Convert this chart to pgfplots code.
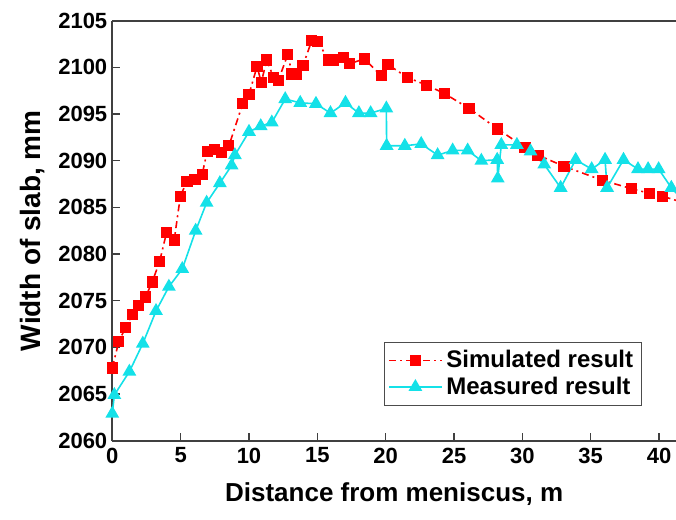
\documentclass[border=0pt]{standalone}
\usepackage{pgfplots}
\pgfplotsset{compat=1.18}
\usepackage{fontspec}
\setmainfont{Liberation Sans}
\definecolor{simred}{RGB}{255,0,0}
\definecolor{meascyan}{RGB}{20,225,232}
\pgfplotstableread{
x y
0.0 2067.8
0.47 2070.6
0.96 2072.1
1.45 2073.5
1.94 2074.5
2.43 2075.4
2.92 2077.0
3.46 2079.2
3.97 2082.3
4.53 2081.5
4.98 2086.2
5.46 2087.8
6.05 2088.0
6.57 2088.5
6.94 2091.0
7.48 2091.2
7.99 2090.9
8.53 2091.6
9.54 2096.1
10.0 2097.1
10.59 2100.1
10.9 2098.4
11.3 2100.8
11.8 2098.9
12.15 2098.6
12.84 2101.4
13.15 2099.3
13.5 2099.3
13.95 2100.2
14.6 2102.9
15.0 2102.8
15.83 2100.8
16.2 2100.8
16.93 2101.1
17.35 2100.4
18.45 2100.9
19.68 2099.1
20.17 2100.3
21.6 2098.9
23.0 2098.1
24.3 2097.2
26.1 2095.6
28.2 2093.4
30.2 2091.4
31.15 2090.6
33.04 2089.4
35.86 2087.9
38.0 2087.0
39.3 2086.5
40.25 2086.2
41.8 2085.5
}\simtable
\pgfplotstableread{
x y
0.0 2062.9
0.15 2064.9
1.25 2067.4
2.23 2070.4
3.2 2073.9
4.14 2076.5
5.12 2078.4
6.1 2082.5
6.9 2085.5
7.87 2087.6
8.73 2089.5
8.97 2090.6
10.0 2093.1
10.86 2093.7
11.67 2094.1
12.65 2096.6
13.75 2096.2
14.9 2096.1
15.96 2095.1
17.06 2096.2
18.04 2095.1
18.9 2095.1
20.05 2095.6
20.07 2091.6
21.4 2091.6
22.6 2091.8
23.8 2090.6
24.9 2091.1
26.0 2091.1
27.0 2090.0
28.16 2090.1
28.2 2088.1
28.46 2091.7
29.6 2091.7
30.6 2091.0
31.6 2089.6
32.8 2087.1
33.9 2090.1
35.07 2089.1
36.05 2090.1
36.2 2087.1
37.4 2090.1
38.46 2089.1
39.2 2089.1
39.97 2089.1
40.9 2087.1
41.6 2086.0
}\meastable
\begin{document}
\begin{tikzpicture}
\begin{axis}[
  scale only axis,
  width=281.85pt, height=210pt,
  xmin=0, xmax=41.24, ymin=2060, ymax=2105,
  axis lines=left,
  axis line style={-, thick, black!75},
  tick align=inside,
  major tick length=4pt,
  tick style={black!75, semithick},
  xtick={0,5,...,40},
  ytick={2060,2065,...,2105},
  /pgf/number format/assume math mode=true,
  /pgf/number format/set thousands separator={},
  every tick label/.append style={font=\bfseries\fontsize{11}{13}\selectfont},
  yticklabel style={xshift=1pt},
  xlabel={Distance from meniscus, m},
  ylabel={Width of slab, mm},
  xlabel style={font=\bfseries\fontsize{13}{15}\selectfont, yshift=-3pt},
  ylabel style={font=\bfseries\fontsize{14}{16}\selectfont, yshift=0pt},
  legend style={at={(0.459,0.235)}, anchor=north west, xshift=6.5pt, draw=black!70, thin,
    font=\bfseries\fontsize{12}{14}\selectfont, row sep=-1pt, inner sep=2pt},
  legend cell align=left,
  legend image code/.code={%
    \draw[mark repeat=2,mark phase=2] plot coordinates {(0cm,0cm) (0.46cm,0cm) (0.92cm,0cm)};},
]
\addplot[color=simred, line width=0.8pt, dash pattern=on 3.5pt off 2pt on 1pt off 2pt,
  mark=square*, mark size=2.4pt, mark options={solid, fill=simred}] table {\simtable};
\addlegendentry{Simulated result}
\addplot[color=meascyan, line width=0.8pt,
  mark=triangle*, mark size=3.2pt, mark options={solid, fill=meascyan}] table {\meastable};
\addlegendentry{Measured result}
\coordinate (bl) at (rel axis cs:0,0);
\coordinate (tr) at (rel axis cs:1,1);
\end{axis}
\draw[thick, black!75] (bl |- tr) -- (tr);
\pgfresetboundingbox
\path (bl) +(-56.15pt,-39.65pt);
\path (tr) +(0pt,10.35pt);
\end{tikzpicture}
\end{document}
